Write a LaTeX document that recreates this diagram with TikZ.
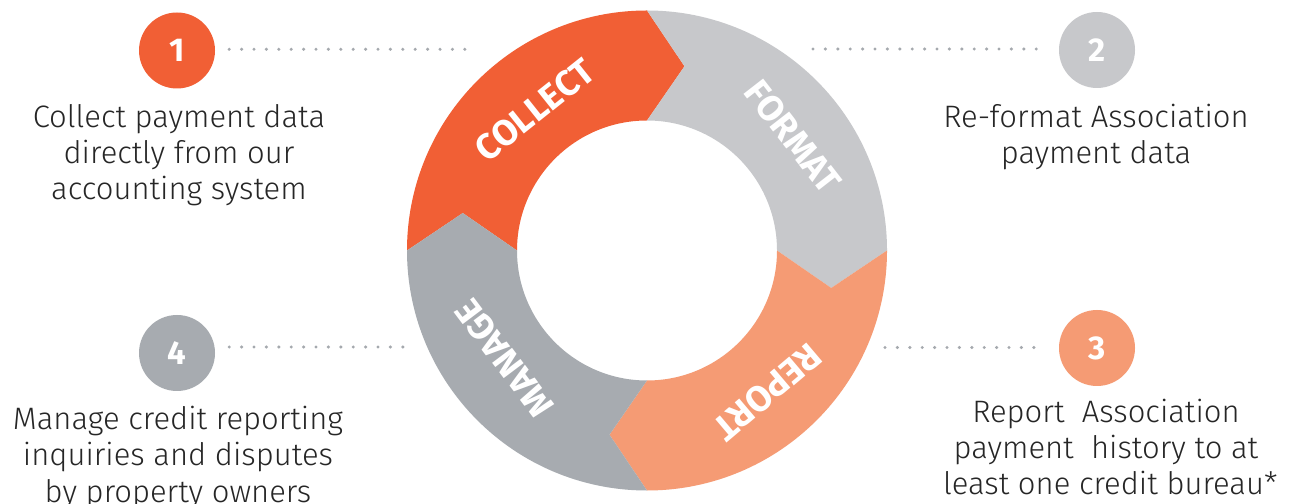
\documentclass[tikz,border=0pt]{standalone}
\usepackage{fontspec}
\newfontfamily\bodyfont{Fira Sans Light}
\newfontfamily\boldfont{Fira Sans Bold}
\definecolor{collectc}{HTML}{F15F35}
\definecolor{formatc}{HTML}{C7C8CB}
\definecolor{reportc}{HTML}{F59B74}
\definecolor{managec}{HTML}{A7ABB0}
\definecolor{dotc}{HTML}{A5A9AE}
\definecolor{textc}{HTML}{262626}
\begin{document}
\begin{tikzpicture}[x=1pt,y=1pt,
  seglabel/.style={text=white, inner sep=0pt, font={\boldfont\fontsize{36}{36}\selectfont}},
  numdisc/.style={circle, minimum size=76pt, inner sep=0pt, text=white,
    font={\boldfont\fontsize{33}{33}\selectfont}},
  desc/.style={text=textc, inner sep=0pt, anchor=base,
    font={\bodyfont\fontsize{31}{36}\selectfont}},
  dotline/.style={draw=dotc, line width=3.4pt, line cap=round, dash pattern=on 0pt off 12.4pt}]
\useasboundingbox (0,0) rectangle (1289,503);
\fill[white] (0,0) rectangle (1289,503);

% ring of four arrow segments, clockwise
\begin{scope}[shift={(647,252.5)}]
  \fill[collectc] (180:130pt) -- (168.5:188pt) -- (180:240pt)
    arc[start angle=180, end angle=90, radius=240pt] -- (78.5:188pt) -- (90:130pt)
    arc[start angle=90, end angle=180, radius=130pt] -- cycle;
  \fill[formatc] (90:130pt) -- (78.5:188pt) -- (90:240pt)
    arc[start angle=90, end angle=0, radius=240pt] -- (-11.5:188pt) -- (0:130pt)
    arc[start angle=0, end angle=90, radius=130pt] -- cycle;
  \fill[reportc] (0:130pt) -- (-11.5:188pt) -- (0:240pt)
    arc[start angle=0, end angle=-90, radius=240pt] -- (-101.5:188pt) -- (-90:130pt)
    arc[start angle=-90, end angle=0, radius=130pt] -- cycle;
  \fill[managec] (-90:130pt) -- (-101.5:188pt) -- (-90:240pt)
    arc[start angle=-90, end angle=-180, radius=240pt] -- (-191.5:188pt) -- (-180:130pt)
    arc[start angle=-180, end angle=-90, radius=130pt] -- cycle;

  \node[seglabel, rotate=38.6] (lc) at (128.6:180pt) {COLLECT};
  \node[seglabel, rotate=-52.1] (lf) at (37.9:185pt) {FORMAT};
  \node[seglabel, rotate=-139.7] (lr) at (-49.7:186pt) {REPORT};
  \node[seglabel, rotate=127] (lm) at (217:179pt) {MANAGE};
\end{scope}

% numbered discs
\node[numdisc, fill=collectc] (n1) at (177,452.5) {1};
\node[numdisc, fill=formatc] (n2) at (1097,453) {2};
\node[numdisc, fill=reportc] (n3) at (1097,155) {3};
\node[numdisc, fill=managec] (n4) at (177,150) {4};

% dotted leaders
\coordinate (e1) at (477,453.7);
\coordinate (s2) at (813,454);
\coordinate (s3) at (885,155.5);
\coordinate (e4) at (410,156);
\draw[dotline] ([xshift=14pt]n1.east |- e1) -- (e1);
\draw[dotline] (s2) -- ([xshift=-14pt]n2.west |- s2);
\draw[dotline] (s3) -- ([xshift=-16pt]n3.west |- s3);
\draw[dotline] ([xshift=14pt]n4.east |- e4) -- (e4);

% descriptions
\node[desc] (t1) at (179,375) {\begin{tabular}[t]{@{}c@{}}Collect payment data\\directly from our\\accounting system\end{tabular}};
\node[desc] (t2) at (1096,375) {\begin{tabular}[t]{@{}c@{}}Re-format Association\\payment data\end{tabular}};
\node[desc] (t3) at (1106,80) {\begin{tabular}[t]{@{}c@{}}Report\ \ Association\\payment\ \ history to at\\\ least one credit bureau*\end{tabular}};
\node[desc] (t4) at (178,73) {\begin{tabular}[t]{@{}c@{}}Manage credit reporting\\inquiries and disputes\\by property owners\end{tabular}};
\end{tikzpicture}
\end{document}
